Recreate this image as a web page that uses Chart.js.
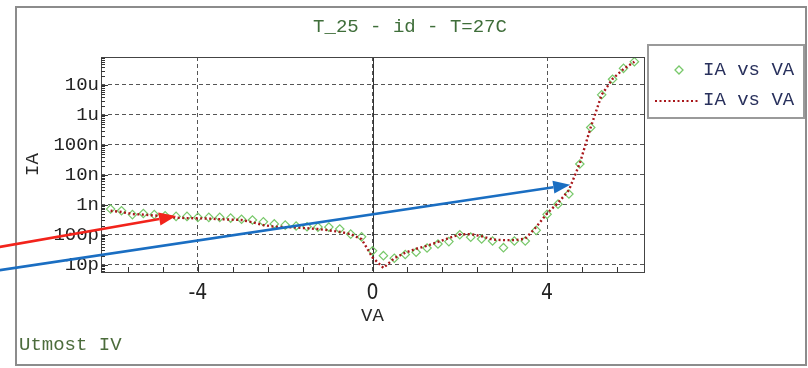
<!DOCTYPE html>
<html>
<head>
<meta charset="utf-8">
<script src="https://cdn.jsdelivr.net/npm/chart.js@4/dist/chart.umd.min.js"></script>
<style>
  html, body { margin: 0; padding: 0; background: #fff; }
  #wrap { width: 808px; height: 368px; }
</style>
</head>
<body>
<div id="wrap"><canvas id="chart" width="808" height="368"></canvas></div>
<script>
// anode voltage sweep (V)
var vaValues = [-6, -5.75, -5.5, -5.25, -5, -4.75, -4.5, -4.25, -4, -3.75, -3.5, -3.25, -3,
  -2.75, -2.5, -2.25, -2, -1.75, -1.5, -1.25, -1, -0.75, -0.5, -0.25, 0,
  0.25, 0.5, 0.75, 1, 1.25, 1.5, 1.75, 2, 2.25, 2.5, 2.75, 3,
  3.25, 3.5, 3.75, 4, 4.25, 4.5, 4.75, 5, 5.25, 5.5, 5.75, 6];

// measured anode current (A)
var iaMeasured = [7.2e-10, 6.3e-10, 4.7e-10, 5.1e-10, 4.7e-10, 4.3e-10, 4.1e-10, 4.1e-10, 3.8e-10,
  3.8e-10, 3.8e-10, 3.6e-10, 3.3e-10, 3.1e-10, 2.7e-10, 2.3e-10, 2.1e-10, 1.95e-10, 1.85e-10,
  1.8e-10, 1.8e-10, 1.55e-10, 1.05e-10, 8.5e-11, 2.9e-11, 2.0e-11, 1.65e-11, 2.2e-11, 2.6e-11,
  3.6e-11, 4.9e-11, 5.9e-11, 1.0e-10, 8.3e-11, 7.2e-11, 6.2e-11, 3.7e-11, 6.2e-11, 6.2e-11,
  1.4e-10, 4.8e-10, 1.05e-9, 2.3e-9, 2.3e-8, 3.8e-7, 4.7e-6, 1.55e-5, 3.6e-5, 6.0e-5];

// simulated anode current (A)
var iaSimulated = [6.3e-10, 5.75e-10, 4.9e-10, 4.7e-10, 4.4e-10, 4.1e-10, 3.7e-10, 3.6e-10, 3.55e-10,
  3.45e-10, 3.3e-10, 3.2e-10, 3.1e-10, 2.6e-10, 2.1e-10, 1.85e-10, 1.8e-10, 1.75e-10, 1.65e-10,
  1.55e-10, 1.4e-10, 1.25e-10, 1.05e-10, 7.1e-11, 1.75e-11, 7.8e-12, 1.65e-11, 2.5e-11, 3.4e-11,
  4.3e-11, 5.75e-11, 7.8e-11, 1.02e-10, 1.05e-10, 8.9e-11, 6.9e-11, 6.6e-11, 6.6e-11, 7.4e-11,
  1.8e-10, 5.2e-10, 1.15e-9, 3.1e-9, 2.45e-8, 3.9e-7, 4.7e-6, 1.6e-5, 3.4e-5, 6.0e-5];

var yTickValues = [1e-11, 1e-10, 1e-9, 1e-8, 1e-7, 1e-6, 1e-5];
var yTickLabels = ['10p', '100p', '1n', '10n', '100n', '1u', '10u'];
var xTickValues = [-4, 0, 4];
var xMinorStep = 0.8;

// callout arrows, [VA, IA] for tail and head
var redArrow = [[-8.6, 3.8e-11], [-4.5, 4.2e-10]];
var blueArrow = [[-8.6, 6.4e-12], [4.53, 4.7e-9]];

var MONO = '"Liberation Mono", "DejaVu Sans Mono", monospace';

function toPoints(xs, ys){
    var pts = [];
    for(var i = 0; i < xs.length; i++){
        pts.push({x: xs[i], y: ys[i]})
    }
    return pts
}

function drawArrow(ctx, sx, sy, ex, ey, color){
    var ang = Math.atan2(ey - sy, ex - sx);
    var len = 17, half = 6.5;
    var bx = ex - len * Math.cos(ang), by = ey - len * Math.sin(ang);
    ctx.save();
    ctx.strokeStyle = color;
    ctx.fillStyle = color;
    ctx.lineWidth = 2.6;
    ctx.beginPath();
    ctx.moveTo(sx, sy);
    ctx.lineTo(bx, by);
    ctx.stroke();
    ctx.beginPath();
    ctx.moveTo(ex, ey);
    ctx.lineTo(bx + half * Math.sin(ang), by - half * Math.cos(ang));
    ctx.lineTo(bx - half * Math.sin(ang), by + half * Math.cos(ang));
    ctx.closePath();
    ctx.fill();
    ctx.restore();
}

var decor = {
    id: 'decor',
    beforeDraw(chart){
        var ctx = chart.ctx;
        ctx.save();
        ctx.fillStyle = '#fff';
        ctx.fillRect(0, 0, chart.width, chart.height);
        ctx.restore();
    },
    beforeDatasetsDraw(chart){
        // solid vertical line at VA = 0
        var ctx = chart.ctx, a = chart.chartArea;
        var x0 = chart.scales.x.getPixelForValue(0);
        ctx.save();
        ctx.strokeStyle = '#333';
        ctx.lineWidth = 1;
        ctx.beginPath();
        ctx.moveTo(Math.round(x0) + 0.5, a.top);
        ctx.lineTo(Math.round(x0) + 0.5, a.bottom);
        ctx.stroke();
        ctx.restore();
    },
    afterDraw(chart){
        var ctx = chart.ctx, a = chart.chartArea;
        var xs = chart.scales.x, ys = chart.scales.y;
        ctx.save();

        // plot frame
        ctx.strokeStyle = '#444';
        ctx.lineWidth = 1;
        ctx.strokeRect(Math.round(a.left) + 0.5, Math.round(a.top) + 0.5,
            Math.round(a.right - a.left), Math.round(a.bottom - a.top));

        // inner tick marks on the y axis (log minors)
        ctx.strokeStyle = '#333';
        ctx.beginPath();
        for(var d = -12; d <= -4; d++){
            for(var k = 1; k <= 9; k++){
                var v = k * Math.pow(10, d);
                if(v < ys.min || v > ys.max) continue;
                var py = Math.round(ys.getPixelForValue(v)) + 0.5;
                var tl = (k == 1) ? 7 : 4;
                ctx.moveTo(a.left, py);
                ctx.lineTo(a.left + tl, py);
            }
        }
        // inner tick marks on the x axis
        for(var n = -7; n <= 7; n++){
            var xv = n * xMinorStep;
            if(xv < xs.min || xv > xs.max) continue;
            var px = Math.round(xs.getPixelForValue(xv)) + 0.5;
            ctx.moveTo(px, a.bottom);
            ctx.lineTo(px, a.bottom - 5);
        }
        xTickValues.forEach(function(t){
            var px = Math.round(xs.getPixelForValue(t)) + 0.5;
            ctx.moveTo(px, a.bottom);
            ctx.lineTo(px, a.bottom - 8);
        });
        ctx.stroke();

        // outer frame
        ctx.strokeStyle = '#8c8c8c';
        ctx.lineWidth = 2;
        ctx.strokeRect(16, 7, 790, 358);

        // title
        ctx.fillStyle = '#3f6e3a';
        ctx.font = '19px ' + MONO;
        ctx.textAlign = 'center';
        ctx.textBaseline = 'middle';
        ctx.fillText('T_25 - id - T=27C', 410, 27);

        // footer tag
        ctx.fillStyle = '#4c6c3c';
        ctx.textAlign = 'left';
        ctx.fillText('Utmost IV', 19, 345);

        // legend
        var lx = 648, ly = 45, lw = 156, lh = 73;
        ctx.strokeStyle = '#9a9a9a';
        ctx.lineWidth = 2;
        ctx.strokeRect(lx, ly, lw, lh);
        var ds0 = chart.data.datasets[0], ds1 = chart.data.datasets[1];
        ctx.fillStyle = '#28305c';
        ctx.textAlign = 'left';
        ctx.fillText(ds0.label, 703, 70);
        ctx.fillText(ds1.label, 703, 100);
        ctx.strokeStyle = ds0.borderColor;
        ctx.lineWidth = 1.3;
        ctx.beginPath();
        ctx.moveTo(679, 66); ctx.lineTo(683, 70); ctx.lineTo(679, 74); ctx.lineTo(675, 70);
        ctx.closePath();
        ctx.stroke();
        ctx.strokeStyle = ds1.borderColor;
        ctx.lineWidth = 2.2;
        ctx.setLineDash(ds1.borderDash);
        ctx.beginPath();
        ctx.moveTo(655, 101); ctx.lineTo(698, 101);
        ctx.stroke();
        ctx.setLineDash([]);

        // callout arrows
        drawArrow(ctx, xs.getPixelForValue(redArrow[0][0]), ys.getPixelForValue(redArrow[0][1]),
            xs.getPixelForValue(redArrow[1][0]), ys.getPixelForValue(redArrow[1][1]), '#f2231b');
        drawArrow(ctx, xs.getPixelForValue(blueArrow[0][0]), ys.getPixelForValue(blueArrow[0][1]),
            xs.getPixelForValue(blueArrow[1][0]), ys.getPixelForValue(blueArrow[1][1]), '#1a6ec2');

        ctx.restore();
    }
};

var ctx = document.getElementById("chart");

chart = new Chart(ctx, {
    type: 'line',
    data: {
        datasets: [{
            label: 'IA vs VA',
            data: toPoints(vaValues, iaMeasured),
            showLine: false,
            pointStyle: 'rectRot',
            pointRadius: 4.2,
            pointBorderWidth: 1.2,
            borderColor: '#78c86a',
            backgroundColor: 'rgba(255,255,255,0)',
            order: 1
        }, {
            label: 'IA vs VA',
            data: toPoints(vaValues, iaSimulated),
            borderColor: '#a8161a',
            borderWidth: 2.4,
            borderDash: [2, 2.5],
            pointRadius: 0,
            tension: 0,
            fill: false,
            order: 0
        }]
    },
    options: {
        responsive: false,
        animation: false,
        events: [],
        layout: { padding: { left: 0, right: 164, top: 57, bottom: 0 } },
        plugins: {
            legend: { display: false },
            title: { display: false },
            tooltip: { enabled: false }
        },
        scales: {
            x: {
                type: 'linear',
                min: -6.22,
                max: 6.22,
                afterBuildTicks: function(s){
                    s.ticks = xTickValues.map(function(v){ return {value: v} })
                },
                afterFit: function(s){ s.height = 96 },
                ticks: {
                    color: '#222',
                    padding: 9,
                    font: { family: '"Liberation Sans Narrow", "DejaVu Sans Condensed", "Liberation Sans", sans-serif', size: 21 },
                    callback: function(v){ return String(v) }
                },
                grid: { color: '#555', lineWidth: 1, drawTicks: false },
                border: { display: false, dash: [4, 3] },
                title: {
                    display: true,
                    text: 'VA',
                    color: '#2a2a2a',
                    font: { family: MONO, size: 19 },
                    padding: { top: 0, bottom: 41 }
                }
            },
            y: {
                type: 'logarithmic',
                min: 5.7e-12,
                max: 8.6e-5,
                afterBuildTicks: function(s){
                    s.ticks = yTickValues.map(function(v){ return {value: v} })
                },
                afterFit: function(s){ s.width = 101 },
                ticks: {
                    color: '#222',
                    padding: 2,
                    font: { family: MONO, size: 19 },
                    callback: function(v){
                        var i = yTickValues.indexOf(v);
                        return i >= 0 ? yTickLabels[i] : ''
                    }
                },
                grid: { color: '#555', lineWidth: 1, drawTicks: false },
                border: { display: false, dash: [4, 3] },
                title: {
                    display: true,
                    text: 'IA',
                    color: '#2a2a2a',
                    font: { family: MONO, size: 19 },
                    padding: { top: 22, bottom: 0 }
                }
            }
        }
    },
    plugins: [decor]
});
</script>
</body>
</html>
